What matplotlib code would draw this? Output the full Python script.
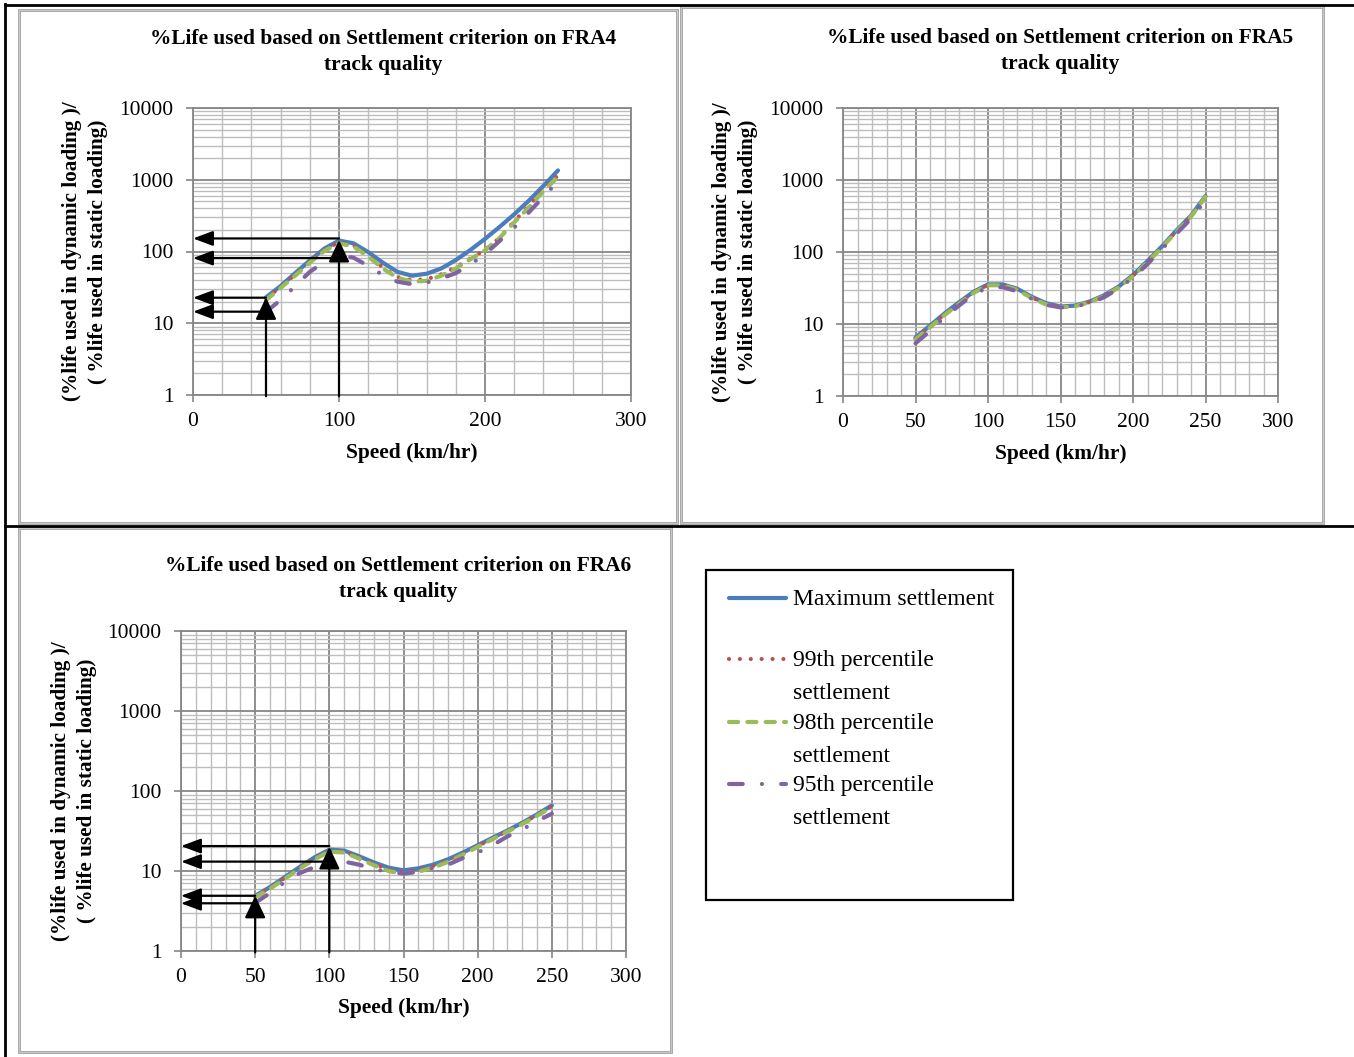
import matplotlib
matplotlib.use("Agg")
import matplotlib.pyplot as plt
from matplotlib.ticker import MultipleLocator, LogLocator, FixedLocator, NullFormatter
from matplotlib.lines import Line2D
from matplotlib.patches import Rectangle

plt.rcParams['font.family'] = ['Liberation Serif', 'DejaVu Serif']

# ---------------- data ----------------
speed = [50, 60, 70, 80, 90, 100, 110, 120, 130, 140, 150,
         160, 170, 180, 190, 200, 210, 220, 230, 240, 250]

# FRA4
fra4_max = [23, 33, 50, 75, 110, 142, 130, 98, 70, 52, 46,
            49, 58, 76, 105, 150, 220, 330, 510, 820, 1350]
fra4_p99 = [22, 32, 48, 72, 105, 135, 122, 88, 60, 44, 40,
            41, 48, 60, 80, 105, 155, 265, 430, 740, 1150]
fra4_p98 = [21, 31, 46, 70, 102, 130, 117, 85, 58, 43, 38,
            39, 46, 58, 78, 104, 155, 255, 410, 690, 1100]
fra4_p95 = [14.5, 21, 33, 52, 72, 88, 82, 63, 47, 38, 35,
            37, 42, 50, 66, 92, 140, 215, 350, 580, 950]

# FRA5
fra5_max = [6.5, 9.5, 14, 20, 28, 35.5, 35.5, 31, 24, 19.5, 17.5,
            18, 20.5, 25, 33, 48, 75, 120, 200, 320, 600]
fra5_p99 = [6.3, 9.2, 13.6, 19.5, 27.5, 35, 35, 30.5, 23.5, 19, 17.3,
            17.8, 20.2, 24.5, 32.5, 47, 73, 118, 195, 315, 590]
fra5_p98 = [6.1, 9.0, 13.3, 19, 27, 34.5, 34.5, 30, 23, 18.7, 17.1,
            17.6, 20, 24.2, 32, 46, 72, 116, 192, 310, 585]
fra5_p95 = [5.4, 8, 12.5, 18, 26, 32, 32.5, 28.5, 22.5, 18.5, 17,
            17.5, 19.5, 23.5, 31, 44, 68, 110, 180, 290, 520]

# FRA6
fra6_max = [4.9, 6.3, 8.4, 11.2, 14.8, 18.5, 18, 15.3, 12.8, 11, 10.2,
            10.8, 12, 14, 17, 21, 26, 32, 40, 51, 66]
fra6_p99 = [4.8, 6.2, 8.2, 11, 14.5, 18, 17.5, 14.8, 12.3, 10.5, 9.8,
            10.4, 11.6, 13.6, 16.6, 20.5, 25.5, 31.5, 39.5, 50, 65]
fra6_p98 = [4.7, 6.0, 8.0, 10.7, 14, 17.5, 17, 14.3, 11.8, 10, 9.2,
            9.8, 11, 13, 16, 20, 25, 31, 38.5, 49, 63]
fra6_p95 = [4.0, 5.3, 7.3, 9.4, 11.2, 12.8, 13.1, 12, 10.6, 9.7, 9.3,
            9.8, 11, 12, 14.5, 17, 21, 27, 33, 42, 52]

series_labels = ["Maximum settlement", "99th percentile\nsettlement",
                 "98th percentile\nsettlement", "95th percentile\nsettlement"]

titles = ["%Life used based on Settlement criterion on FRA4\ntrack quality",
          "%Life used based on Settlement criterion on FRA5\ntrack quality",
          "%Life used based on Settlement criterion on FRA6\ntrack quality"]
ylabel = "(%life used in dynamic loading )/\n( %life used in static loading)"
xlabel = "Speed (km/hr)"

# arrow annotations (speed, tip value) and horizontal arrow levels
fra4_vert = [(50, 23), (100, 145)]
fra4_horz = [(50, 22.7), (50, 14.5), (100, 152), (100, 81)]
fra6_vert = [(50, 4.9), (100, 20)]
fra6_horz = [(50, 4.9), (50, 3.95), (100, 20.5), (100, 13.1)]

# ---------------- styles ----------------
W, H = 1354, 1057
fig = plt.figure(figsize=(W / 100, H / 100), dpi=100)


def fx(p):
    return p / W


def fy(p):
    return 1 - p / H


colors = ['#4a7ebb', '#c0504d', '#9bbb59', '#8064a2']
styles = [
    dict(linestyle='-', lw=3.0, solid_capstyle='round'),
    dict(linestyle=(0, (0.01, 2.6)), lw=3.0, dash_capstyle='round'),
    dict(linestyle=(0, (2.2, 2.2)), lw=3.0, dash_capstyle='round'),
    dict(linestyle=(0, (3.3, 4.6, 0.01, 4.6)), lw=3.0, dash_capstyle='round'),
]

GRID_MAJ = '#868686'
GRID_MIN = '#bdbdbd'


def make_axes(box, xmajor, xminor, data, title, title_xy, ylab_x, xlab_y):
    l, t, r, b = box
    ax = fig.add_axes([fx(l), fy(b), fx(r - l), (b - t) / H])
    ax.set_yscale('log')
    ax.set_xlim(0, 300)
    ax.set_ylim(1, 10000)
    ax.xaxis.set_major_locator(MultipleLocator(xmajor))
    ax.xaxis.set_minor_locator(MultipleLocator(xminor))
    ax.yaxis.set_major_locator(FixedLocator([1, 10, 100, 1000, 10000]))
    ax.yaxis.set_minor_locator(LogLocator(base=10, subs=range(2, 10)))
    ax.yaxis.set_minor_formatter(NullFormatter())
    ax.set_yticklabels(['1', '10', '100', '1000', '10000'])
    ax.grid(which='major', color=GRID_MAJ, lw=1.3)
    ax.grid(which='minor', color=GRID_MIN, lw=1.0)
    ax.set_axisbelow(True)
    for s in ax.spines.values():
        s.set_color(GRID_MAJ)
        s.set_linewidth(1.3)
    ax.tick_params(which='major', length=5, color=GRID_MAJ, width=1.2,
                   labelsize=15.5)
    ax.tick_params(axis='y', which='major', pad=9)
    ax.tick_params(axis='x', which='major', pad=7)
    ax.tick_params(which='minor', length=0)
    for ys, c, st in zip(data, colors, styles):
        ax.plot(speed, ys, color=c, **st)
    fig.text(fx(title_xy[0]), fy(title_xy[1]), title, ha='center', va='center',
             fontsize=15.4, fontweight='bold', linespacing=1.38)
    fig.text(fx(ylab_x), fy((t + b) / 2), ylabel, rotation=90, ha='center',
             va='center', fontsize=15.3, fontweight='bold', linespacing=1.45)
    fig.text(fx((l + r) / 2), fy(xlab_y), xlabel, ha='center', va='center',
             fontsize=15.4, fontweight='bold')
    return ax


def add_arrows(ax, verts, horzs):
    for sx, v in verts:
        ax.annotate('', xy=(sx, v), xytext=(sx, 0.96),
                    arrowprops=dict(arrowstyle='-|>,head_length=0.85,head_width=0.4',
                                    color='black', lw=1.6, shrinkA=0, shrinkB=0,
                                    mutation_scale=16),
                    annotation_clip=False)
    for sx, v in horzs:
        ax.annotate('', xy=(0, v), xytext=(sx, v),
                    arrowprops=dict(arrowstyle='-|>,head_length=0.75,head_width=0.28',
                                    color='black', lw=1.6, shrinkA=0, shrinkB=0,
                                    mutation_scale=16),
                    annotation_clip=False)


ax1 = make_axes((193, 108, 631, 395), 100, 20,
                [fra4_max, fra4_p99, fra4_p98, fra4_p95],
                titles[0], (383, 52), 85, 453)
add_arrows(ax1, fra4_vert, fra4_horz)

ax2 = make_axes((843, 108, 1278, 396), 50, 10,
                [fra5_max, fra5_p99, fra5_p98, fra5_p95],
                titles[1], (1060, 51), 735, 454)

ax3 = make_axes((181, 631, 626, 951), 50, 10,
                [fra6_max, fra6_p99, fra6_p98, fra6_p95],
                titles[2], (398, 579), 74, 1008)
add_arrows(ax3, fra6_vert, fra6_horz)

# ---------------- frames ----------------
def hline(x0, x1, y, color, lw):
    fig.add_artist(Line2D([fx(x0), fx(x1)], [fy(y), fy(y)], color=color, lw=lw))


def vline(x, y0, y1, color, lw):
    fig.add_artist(Line2D([fx(x), fx(x)], [fy(y0), fy(y1)], color=color, lw=lw))


# outer table lines
hline(5, 1354, 4.5, 'black', 2.0)
vline(5, 4, 1057, 'black', 2.0)
hline(5, 1354, 526, 'black', 2.0)


def grey_box(l, t, r, b):
    fig.add_artist(Rectangle((fx(l), fy(b)), fx(r - l), (b - t) / H,
                             fill=False, edgecolor='#a0a0a0', lw=2.0))
    fig.add_artist(Rectangle((fx(l), fy(b)), fx(r - l), (b - t) / H,
                             fill=False, edgecolor='#d0d0d0', lw=0.6))


grey_box(19, 10, 677, 523)
grey_box(681, 7, 1323, 523)
grey_box(19, 528, 671, 1052)
# white-out the black line behind bottom-left cell top
fig.add_artist(Rectangle((fx(19), fy(529)), fx(652), 4 / H,
                         facecolor='white', edgecolor='none', zorder=0.5))

# ---------------- legend ----------------
fig.add_artist(Rectangle((fx(706), fy(900)), fx(307), 330 / H,
                         fill=False, edgecolor='black', lw=1.6))
leg_rows = [598, 659, 722, 784]
for lab, c, st, yy in zip(series_labels, colors, styles, leg_rows):
    fig.add_artist(Line2D([fx(729), fx(786)], [fy(yy), fy(yy)], color=c, **st))
    fig.text(fx(793), fy(yy - 9), lab, ha='left', va='top', fontsize=17,
             linespacing=1.75)

fig.savefig('out.png', dpi=100)
